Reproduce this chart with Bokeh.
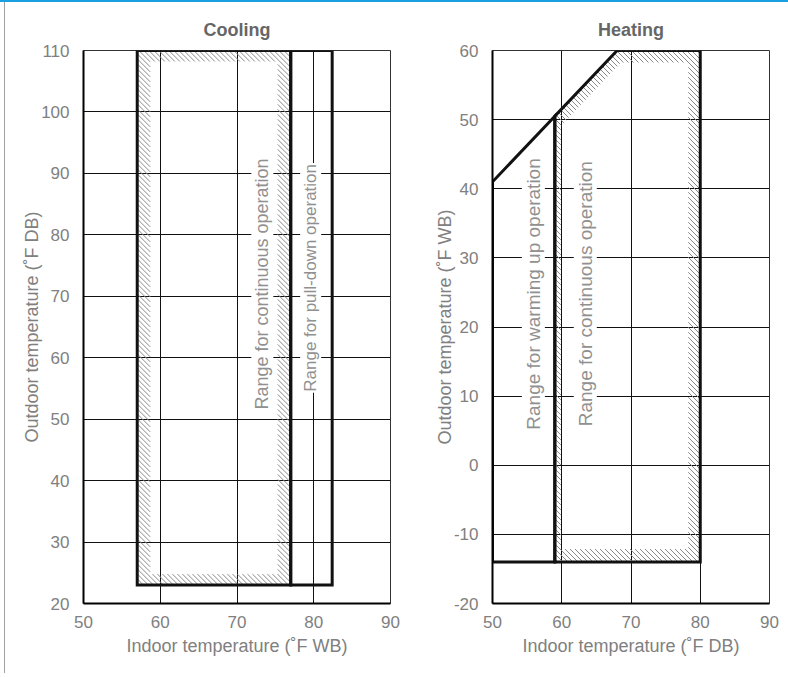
import math
from bokeh.plotting import figure
from bokeh.models import Range1d, FixedTicker, Label, Div
from bokeh.layouts import row, column
from bokeh.embed import file_html
from bokeh.resources import INLINE

# ---------------- data ----------------
x_ticks = [50, 60, 70, 80, 90]
cool_y_ticks = [20, 30, 40, 50, 60, 70, 80, 90, 100, 110]
heat_y_ticks = [-20, -10, 0, 10, 20, 30, 40, 50, 60]

# Cooling (indoor °F WB vs outdoor °F DB)
cool_cont_x = [57, 57, 77, 77]
cool_cont_y = [23, 110, 110, 23]
cool_pull_x = [77, 77, 82.4, 82.4]
cool_pull_y = [23, 110, 110, 23]

# Heating (indoor °F DB vs outdoor °F WB)
heat_warm_x = [50, 50, 59, 59]
heat_warm_y = [-14, 41, 50.5, -14]
heat_cont_x = [59, 59, 68, 80, 80]
heat_cont_y = [-14, 50.5, 60, 60, -14]

cool_labels = ["Range for continuous operation", "Range for pull-down operation"]
cool_label_x = [73.3, 79.6]
cool_label_y = [51.4, 54.3]
heat_labels = ["Range for warming up operation", "Range for continuous operation"]
heat_label_x = [55.9, 63.4]
heat_label_y = [5.0, 5.5]

# ---------------- style ----------------
FONT = "Liberation Sans"
TICK_COLOR = "#808080"
TEXT_COLOR = "#909090"
HATCH_COLOR = "#8a8a8a"
FRAME_H = 553
TOP_B, BOT_B = 48, 70


def _inward_lines(px, py):
    n = len(px)
    area = sum(px[i] * py[(i + 1) % n] - px[(i + 1) % n] * py[i] for i in range(n)) / 2
    out = []
    for i in range(n):
        x0, y0 = px[i], py[i]
        x1, y1 = px[(i + 1) % n], py[(i + 1) % n]
        dx, dy = x1 - x0, y1 - y0
        L = math.hypot(dx, dy)
        if area > 0:
            nx, ny = -dy / L, dx / L
        else:
            nx, ny = dy / L, -dx / L
        out.append((x0, y0, dx, dy, nx, ny))
    return out


def inset_polygon(px, py, offsets_px):
    lines = []
    for (x0, y0, dx, dy, nx, ny), d in zip(_inward_lines(px, py), offsets_px):
        lines.append((x0 + nx * d, y0 + ny * d, dx, dy))
    ox, oy = [], []
    for i in range(len(lines)):
        ax, ay, adx, ady = lines[i - 1]
        bx, by, bdx, bdy = lines[i]
        den = adx * bdy - ady * bdx
        t = ((bx - ax) * bdy - (by - ay) * bdx) / den
        ox.append(ax + adx * t)
        oy.append(ay + ady * t)
    return ox, oy


def clip_interval(p0, d, px, py):
    tmin, tmax = -1e18, 1e18
    for (x0, y0, _, _, nx, ny) in _inward_lines(px, py):
        a = nx * (p0[0] - x0) + ny * (p0[1] - y0)
        b = nx * d[0] + ny * d[1]
        if abs(b) < 1e-12:
            if a < 0:
                return None
            continue
        t = -a / b
        if b > 0:
            tmin = max(tmin, t)
        else:
            tmax = min(tmax, t)
    return (tmin, tmax) if tmin < tmax else None


def make_fig(title, xlabel, ylabel, yr, yticks, fw, bl, br):
    p = figure(width=bl + fw + br, height=TOP_B + FRAME_H + BOT_B,
               x_range=Range1d(50, 90), y_range=Range1d(*yr),
               output_backend="svg", toolbar_location=None,
               min_border_left=bl, min_border_right=br,
               min_border_top=TOP_B, min_border_bottom=BOT_B)
    p.title.text = title
    p.title.align = "center"
    p.title.text_font = FONT
    p.title.text_font_size = "18px"
    p.title.text_font_style = "bold"
    p.title.text_color = "#666666"
    p.title.standoff = 21
    p.xaxis.ticker = FixedTicker(ticks=x_ticks)
    p.yaxis.ticker = FixedTicker(ticks=yticks)
    p.yaxis.major_label_overrides = {t: str(t) for t in yticks}
    p.xaxis.axis_label = xlabel
    p.yaxis.axis_label = ylabel
    for ax in (p.xaxis[0], p.yaxis[0]):
        ax.axis_line_color = "black"
        ax.axis_line_width = 2
        ax.major_tick_line_color = None
        ax.minor_tick_line_color = None
        ax.major_label_text_font = FONT
        ax.major_label_text_font_size = "17px"
        ax.major_label_text_color = TICK_COLOR
        ax.axis_label_text_font = FONT
        ax.axis_label_text_font_size = "18px"
        ax.axis_label_text_font_style = "normal"
        ax.axis_label_text_color = TICK_COLOR
    p.xaxis.major_label_standoff = 6
    p.xaxis.axis_label_standoff = 5
    p.yaxis.major_label_standoff = 8
    p.yaxis.axis_label_standoff = -4
    p.grid.grid_line_color = "#111111"
    p.grid.grid_line_width = 1
    p.outline_line_color = "#333333"
    p.outline_line_width = 1
    p.background_fill_color = "white"
    p.border_fill_color = "white"
    return p


def add_band(p, xs, ys, offsets, fw, xr, yr, step=5.0):
    sx = fw / (xr[1] - xr[0])
    sy = FRAME_H / (yr[1] - yr[0])
    px = [x * sx for x in xs]
    py = [y * sy for y in ys]
    ix, iy = inset_polygon(px, py, offsets)
    sums = [a + b for a, b in zip(px, py)]
    c = math.floor(min(sums) / step) * step
    seg_x, seg_y = [], []
    d = (1.0, -1.0)
    while c <= max(sums):
        p0 = (c, 0.0)
        outer = clip_interval(p0, d, px, py)
        if outer:
            inner = clip_interval(p0, d, ix, iy)
            pieces = []
            if inner is None or inner[1] <= outer[0] or inner[0] >= outer[1]:
                pieces.append(outer)
            else:
                if inner[0] > outer[0]:
                    pieces.append((outer[0], inner[0]))
                if inner[1] < outer[1]:
                    pieces.append((inner[1], outer[1]))
            for t0, t1 in pieces:
                seg_x.append([(p0[0] + d[0] * t0) / sx, (p0[0] + d[0] * t1) / sx])
                seg_y.append([(p0[1] + d[1] * t0) / sy, (p0[1] + d[1] * t1) / sy])
        c += step
    p.multi_line(seg_x, seg_y, line_color=HATCH_COLOR, line_width=1)


def add_labels(p, texts, xs, ys, sizes):
    for t, x, y, s in zip(texts, xs, ys, sizes):
        p.add_layout(Label(x=x, y=y, text=t, angle=math.pi / 2,
                           text_align="left", text_baseline="middle",
                           text_font=FONT, text_font_size=s,
                           text_color=TEXT_COLOR,
                           background_fill_color="white", padding=1))


# ---------------- cooling ----------------
CW = 307
p1 = make_fig("Cooling", "Indoor temperature (˚F WB)", "Outdoor temperature (˚F DB)",
              (20, 110), cool_y_ticks, CW, 78, 30)
add_band(p1, cool_cont_x, cool_cont_y, [13, 11, 13, 11], CW, (50, 90), (20, 110))
for xs, ys in ((cool_cont_x, cool_cont_y), (cool_pull_x, cool_pull_y)):
    p1.patch(xs, ys, fill_color=None, line_color="#111111", line_width=3, line_join="miter")
add_labels(p1, cool_labels, cool_label_x, cool_label_y, ["18px", "17px"])

# ---------------- heating ----------------
HW = 277
p2 = make_fig("Heating", "Indoor temperature (˚F DB)", "Outdoor temperature (˚F WB)",
              (-20, 60), heat_y_ticks, HW, 72, 15)
add_band(p2, heat_cont_x, heat_cont_y, [6, 11, 12, 12, 13], HW, (50, 90), (-20, 60))
for xs, ys in ((heat_warm_x, heat_warm_y), (heat_cont_x, heat_cont_y)):
    p2.patch(xs, ys, fill_color=None, line_color="#111111", line_width=3, line_join="miter")
add_labels(p2, heat_labels, heat_label_x, heat_label_y, ["19px", "19px"])

blue = Div(text="", width=788, height=2, margin=0, styles={"background-color": "#1a9fe0"})
pad = Div(text="", width=4, height=671, margin=0)
gray = Div(text="", width=1, height=671, margin=0, styles={"background-color": "#a0a0a0"})

layout = column(blue, row(pad, gray, p1, p2, spacing=0), spacing=0)

open("out.html", "w").write(file_html(layout, INLINE))
